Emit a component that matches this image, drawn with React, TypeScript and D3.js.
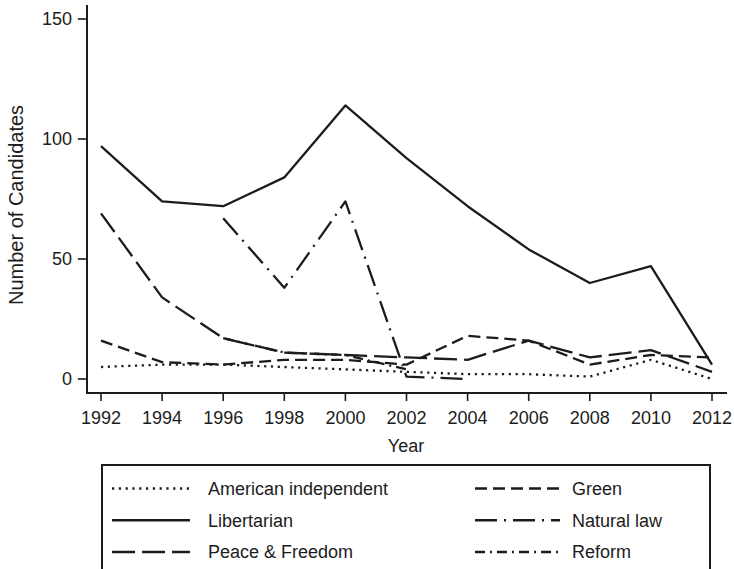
import React from "react";
import * as d3 from "d3";

const years = [1992, 1994, 1996, 1998, 2000, 2002, 2004, 2006, 2008, 2010, 2012];
const americanIndependent = [5, 6, 6, 5, 4, 3, 2, 2, 1, 8, 0];
const green = [16, 7, 6, 8, 8, 6, 18, 16, 6, 10, 9];
const libertarian = [97, 74, 72, 84, 114, 92, 72, 54, 40, 47, 6];
const naturalLaw = [null, null, 67, 38, 74, 1, 0, null, null, null, null];
const peaceFreedom = [69, 34, 17, 11, 10, 9, 8, 16, 9, 12, 3];
const reform = [null, null, 17, 11, 10, 4, null, null, null, null, null];
const yTicks = [0, 50, 100, 150];

const seriesDefs = [
  { name: "American independent", values: americanIndependent, dash: "2.2,4.6" },
  { name: "Green", values: green, dash: "12,6" },
  { name: "Libertarian", values: libertarian, dash: "none" },
  { name: "Natural law", values: naturalLaw, dash: "22,7,2,7" },
  { name: "Peace & Freedom", values: peaceFreedom, dash: "23,7" },
  { name: "Reform", values: reform, dash: "10,5,2,5" },
];

const legendOrder = [
  ["American independent", "Green"],
  ["Libertarian", "Natural law"],
  ["Peace & Freedom", "Reform"],
];

const FONT = "'Liberation Sans', Arial, Helvetica, sans-serif";
const INK = "#1c1c1c";

export default function App() {
  const x = d3.scaleLinear().domain([1992, 2012]).range([101, 712]);
  const y = d3.scaleLinear().domain([0, 150]).range([379, 19]);
  const line = d3
    .line<number | null>()
    .defined((d) => d !== null)
    .x((_, i) => x(years[i]))
    .y((d) => y(d as number));

  const axisY = 393;
  const axisX = 87;
  const byName = new Map(seriesDefs.map((s) => [s.name, s]));

  return (
    <svg
      width={734}
      height={569}
      style={{ position: "absolute", left: 0, top: 0, background: "#fff" }}
      fontFamily={FONT}
    >
      <rect width={734} height={569} fill="#fff" />
      {/* axes */}
      <line x1={axisX} x2={axisX} y1={5} y2={axisY + 1} stroke={INK} strokeWidth={2} />
      <line x1={axisX - 1} x2={727} y1={axisY} y2={axisY} stroke={INK} strokeWidth={2} />
      {yTicks.map((t) => (
        <g key={t}>
          <line x1={axisX - 9} x2={axisX} y1={y(t)} y2={y(t)} stroke={INK} strokeWidth={1.6} />
          <text x={72} y={y(t)} dy="0.36em" textAnchor="end" fontSize={18} fill={INK}>
            {t}
          </text>
        </g>
      ))}
      {years.map((yr) => (
        <g key={yr}>
          <line x1={x(yr)} x2={x(yr)} y1={axisY} y2={axisY + 8} stroke={INK} strokeWidth={1.6} />
          <text x={x(yr)} y={424} textAnchor="middle" fontSize={18} fill={INK}>
            {yr}
          </text>
        </g>
      ))}
      <text x={406} y={452} textAnchor="middle" fontSize={18} fill={INK}>
        Year
      </text>
      <text
        transform={`translate(23,205) rotate(-90)`}
        textAnchor="middle"
        fontSize={20}
        fill={INK}
      >
        Number of Candidates
      </text>
      {/* series */}
      {seriesDefs.map((s) => (
        <path
          key={s.name}
          d={line(s.values) || ""}
          fill="none"
          stroke={INK}
          strokeWidth={2.3}
          strokeDasharray={s.dash}
          strokeLinejoin="round"
        />
      ))}
      {/* legend */}
      <rect x={102} y={465} width={608} height={120} fill="#fff" stroke={INK} strokeWidth={2} />
      {legendOrder.map((row, ri) =>
        row.map((name, ci) => {
          const s = byName.get(name)!;
          const ly = 488.5 + ri * 31.7;
          const x0 = ci === 0 ? 112 : 475;
          const x1 = ci === 0 ? 190 : 560;
          const tx = ci === 0 ? 208 : 572;
          return (
            <g key={name}>
              <line
                x1={x0}
                x2={x1}
                y1={ly}
                y2={ly}
                stroke={INK}
                strokeWidth={2.5}
                strokeDasharray={s.dash}
              />
              <text x={tx} y={ly} dy="0.36em" fontSize={18} fill={INK}>
                {name}
              </text>
            </g>
          );
        })
      )}
    </svg>
  );
}
